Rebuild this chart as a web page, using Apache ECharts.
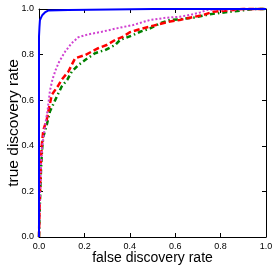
<!DOCTYPE html>
<html><head><meta charset="utf-8">
<script src="https://cdn.jsdelivr.net/npm/echarts@6/dist/echarts.min.js"></script>
<style>html,body{margin:0;padding:0;background:#fff}#c{width:277px;height:271px}</style>
</head><body><div id="c"></div>
<script>
var ticks = [0.0, 0.2, 0.4, 0.6, 0.8, 1.0];
var xTitle = 'false discovery rate';
var yTitle = 'true discovery rate';

var blueX = [0, 0, 0.002, 0.004, 0.008, 0.015, 0.026, 0.04, 0.13, 0.5, 1.0];
var blueY = [0, 0.88, 0.92, 0.95, 0.96, 0.974, 0.985, 0.993, 0.996, 1.0, 1.0];

var magX = [0, 0.003, 0.008, 0.012, 0.019, 0.026, 0.038, 0.048, 0.059, 0.073, 0.088, 0.115, 0.144, 0.173, 0.217, 0.276, 0.342, 0.415, 0.489, 0.563, 0.62, 0.665, 0.71, 0.74, 1.0];
var magY = [0, 0.15, 0.3, 0.38, 0.433, 0.484, 0.557, 0.64, 0.69, 0.732, 0.767, 0.813, 0.85, 0.876, 0.889, 0.9, 0.915, 0.93, 0.952, 0.962, 0.966, 0.974, 0.985, 0.996, 1.0];

var redX = [0, 0.003, 0.007, 0.012, 0.019, 0.034, 0.041, 0.056, 0.082, 0.1, 0.129, 0.159, 0.203, 0.261, 0.298, 0.335, 0.371, 0.4, 0.445, 0.504, 0.577, 0.62, 0.665, 0.724, 0.768, 0.856, 0.9, 1.0];
var redY = [0, 0.15, 0.3, 0.4, 0.469, 0.513, 0.55, 0.623, 0.66, 0.69, 0.725, 0.784, 0.798, 0.828, 0.842, 0.864, 0.879, 0.898, 0.912, 0.927, 0.945, 0.952, 0.962, 0.974, 0.988, 0.996, 1.0, 1.0];

var greenX = [0, 0.004, 0.009, 0.014, 0.019, 0.034, 0.048, 0.078, 0.1, 0.125, 0.144, 0.173, 0.203, 0.247, 0.291, 0.335, 0.357, 0.415, 0.445, 0.489, 0.533, 0.577, 0.62, 0.68, 0.753, 0.84, 0.95, 1.0];
var greenY = [0, 0.15, 0.3, 0.39, 0.44, 0.491, 0.55, 0.615, 0.66, 0.69, 0.725, 0.754, 0.776, 0.806, 0.82, 0.842, 0.864, 0.886, 0.9, 0.915, 0.937, 0.952, 0.955, 0.962, 0.977, 0.988, 1.0, 1.0];

function pairs(xs, ys) { return xs.map(function (x, i) { return [x, ys[i]]; }); }

var chart = echarts.init(document.getElementById('c'), null, { renderer: 'canvas' });
var font = 'Liberation Sans, Arial, sans-serif';
function axisBase(show, pos) {
  return {
    type: 'value', min: 0, max: 1, interval: 0.2, position: pos,
    axisLine: { show: true, onZero: false, lineStyle: { color: '#000', width: 1 } },
    axisTick: { show: true, inside: true, length: 4, lineStyle: { color: '#000', width: 1 } },
    axisLabel: { show: show, color: '#000', fontSize: 9, fontFamily: font, margin: 5,
      formatter: function (v) { return v.toFixed(1); } },
    splitLine: { show: false }
  };
}
var xb = axisBase(true, 'bottom');
xb.name = xTitle; xb.nameLocation = 'middle'; xb.nameGap = 14; xb.nameMoveOverlap = false;
xb.nameTextStyle = { color: '#000', fontSize: 14, fontFamily: font };
var xt = axisBase(false, 'top');
var yl = axisBase(true, 'left');
yl.name = yTitle; yl.nameLocation = 'middle'; yl.nameGap = 17; yl.nameMoveOverlap = false;
yl.nameTextStyle = { color: '#000', fontSize: 15.5, fontFamily: font };
var yr = axisBase(false, 'right');

function line(name, xs, ys, color, type, width, z) {
  return { name: name, type: 'line', data: pairs(xs, ys), xAxisIndex: 0, yAxisIndex: 0,
    showSymbol: false, symbol: 'none', clip: false, z: z, animation: false,
    lineStyle: { color: color, width: width, type: type } };
}

chart.setOption({
  animation: false,
  grid: { left: 39, right: 11, top: 9, bottom: 34, containLabel: false, outerBoundsMode: 'none' },
  xAxis: [xb, xt],
  yAxis: [yl, yr],
  series: [
    line('green', greenX, greenY, '#008000', [5, 3, 1.5, 3], 2.5, 2),
    line('red', redX, redY, '#ff0000', [6, 3], 2.5, 3),
    line('magenta', magX, magY, '#d040d0', [2, 2], 2, 4),
    line('blue', blueX, blueY, '#0000ff', 'solid', 2, 5)
  ]
});
</script></body></html>
